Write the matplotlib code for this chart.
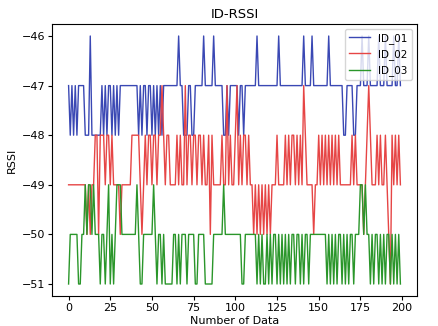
import matplotlib
matplotlib.use("Agg")
import matplotlib.pyplot as plt
import numpy as np

id_01 = [-47,-48,-47,-48,-47,-48,-47,-47,-47,-47,
         -48,-48,-48,-46,-48,-48,-48,-48,-48,-48,
         -47,-48,-47,-48,-47,-47,-48,-47,-48,-47,
         -48,-47,-47,-47,-47,-47,-47,-47,-47,-47,
         -47,-47,-48,-47,-48,-47,-47,-48,-47,-47,
         -48,-47,-48,-47,-48,-47,-48,-47,-47,-47,
         -47,-47,-47,-47,-47,-47,-46,-47,-47,-48,
         -48,-48,-47,-47,-48,-48,-47,-47,-47,-47,
         -47,-46,-47,-47,-47,-47,-47,-46,-47,-47,
         -47,-47,-47,-48,-48,-47,-48,-47,-47,-47,
         -47,-47,-48,-47,-47,-48,-47,-47,-47,-47,
         -47,-47,-47,-46,-47,-47,-47,-47,-47,-47,
         -47,-47,-47,-47,-47,-47,-46,-47,-47,-47,
         -47,-47,-47,-47,-47,-47,-47,-47,-47,-47,
         -47,-46,-47,-47,-47,-47,-46,-47,-47,-47,
         -47,-47,-47,-47,-47,-47,-46,-47,-47,-47,
         -47,-47,-47,-47,-47,-48,-48,-47,-47,-47,
         -47,-48,-48,-47,-47,-47,-46,-47,-47,-47,
         -46,-47,-47,-47,-47,-47,-46,-47,-47,-47,
         -46,-47,-47,-47,-47,-46,-47,-47,-46,-47]

id_02 = [-49,-49,-49,-49,-49,-49,-49,-49,-49,-49,
         -49,-50,-49,-50,-49,-49,-48,-48,-50,-48,
         -48,-48,-49,-48,-48,-49,-48,-49,-49,-49,
         -49,-50,-49,-49,-49,-49,-49,-49,-48,-48,
         -48,-48,-48,-49,-50,-49,-48,-49,-48,-48,
         -49,-48,-48,-49,-48,-48,-47,-48,-49,-48,
         -48,-49,-49,-49,-49,-48,-49,-48,-49,-49,
         -47,-49,-48,-48,-49,-48,-48,-49,-48,-48,
         -49,-48,-49,-49,-48,-50,-48,-49,-49,-49,
         -49,-49,-48,-49,-49,-47,-49,-48,-49,-49,
         -48,-47,-49,-48,-49,-48,-48,-49,-48,-49,
         -49,-50,-49,-50,-49,-50,-49,-50,-49,-50,
         -49,-50,-49,-49,-49,-48,-49,-49,-49,-49,
         -48,-49,-48,-49,-48,-48,-49,-48,-49,-48,
         -49,-47,-48,-49,-49,-49,-49,-50,-49,-49,
         -48,-49,-48,-49,-48,-49,-48,-49,-48,-49,
         -48,-49,-48,-49,-49,-49,-49,-49,-49,-49,
         -48,-49,-48,-49,-49,-49,-49,-50,-49,-48,
         -47,-48,-49,-49,-49,-48,-49,-48,-49,-49,
         -48,-49,-50,-51,-48,-49,-48,-49,-48,-49]

id_03 = [-51,-50,-50,-50,-50,-50,-51,-51,-50,-50,
         -49,-50,-49,-49,-50,-49,-50,-50,-50,-51,
         -50,-50,-51,-50,-49,-51,-50,-51,-50,-49,
         -49,-49,-50,-50,-50,-50,-50,-50,-50,-50,
         -50,-49,-50,-51,-51,-50,-50,-50,-50,-50,
         -50,-49,-50,-51,-50,-50,-51,-50,-51,-51,
         -51,-51,-51,-50,-50,-51,-50,-51,-50,-50,
         -50,-51,-50,-50,-50,-50,-51,-51,-50,-50,
         -50,-50,-51,-51,-51,-51,-51,-50,-50,-50,
         -50,-50,-50,-49,-50,-50,-50,-50,-50,-50,
         -50,-50,-50,-50,-51,-51,-50,-50,-50,-50,
         -50,-50,-50,-51,-50,-51,-50,-51,-51,-50,
         -51,-50,-51,-50,-50,-51,-50,-51,-50,-51,
         -50,-51,-50,-51,-50,-50,-51,-50,-50,-51,
         -50,-51,-50,-50,-51,-50,-50,-50,-50,-50,
         -50,-50,-50,-50,-50,-51,-50,-51,-50,-51,
         -50,-51,-50,-50,-51,-50,-51,-50,-51,-50,
         -50,-51,-50,-50,-50,-49,-49,-50,-49,-50,
         -50,-51,-50,-51,-50,-50,-51,-50,-51,-50,
         -51,-50,-50,-51,-50,-51,-50,-51,-50,-51]

series_names = ["ID_01", "ID_02", "ID_03"]
series_colors = ["#3a48b4", "#e64545", "#2a962a"]
title = "ID-RSSI"
xlabel = "Number of Data"
ylabel = "RSSI"

W, H = 438, 326
fig = plt.figure(figsize=(W / 100, H / 100), dpi=100)
ax = fig.add_axes([52 / W, 1 - 296.4 / H, (417 - 52) / W, (296.4 - 23.6) / H])

for name, vals, col in zip(series_names, [id_01, id_02, id_03], series_colors):
    ax.plot(np.arange(len(vals)), vals, color=col, lw=1.0, label=name)

ax.set_title(title, fontsize=9.5, pad=4)
ax.set_xlabel(xlabel, fontsize=8, labelpad=2)
ax.set_ylabel(ylabel, fontsize=8, labelpad=3)
ax.tick_params(labelsize=8, length=3, pad=2)
ax.legend(fontsize=7.5, loc="upper right", handlelength=2.0)

fig.savefig("out.png", dpi=100)
